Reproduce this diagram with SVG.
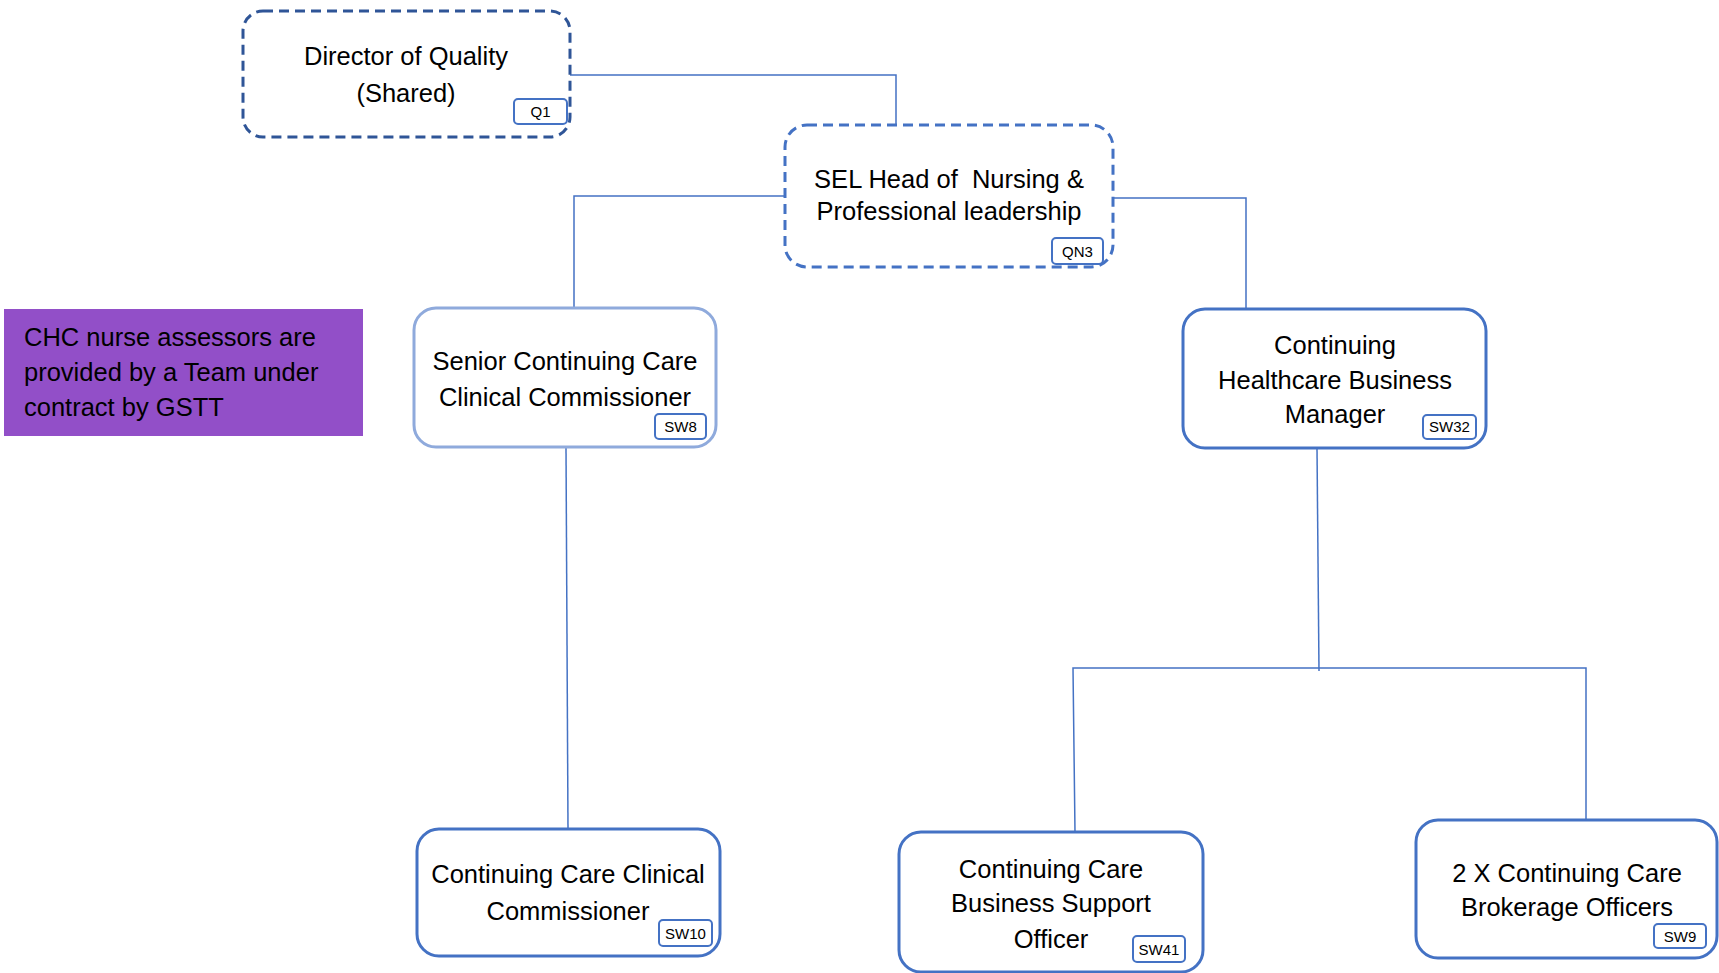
<svg xmlns="http://www.w3.org/2000/svg" width="1719" height="973" viewBox="0 0 1719 973">
<style>
  .node { fill: #ffffff; stroke: #4472C4; stroke-width: 3; }
  .light { stroke: #8FAADC; }
  .dash { fill: #ffffff; stroke: #4472C4; stroke-width: 3; stroke-dasharray: 10 6; }
  .dark { stroke: #2F5597; }
  .tag { fill: #ffffff; stroke: #4472C4; stroke-width: 2; }
  .t { font-family: "Liberation Sans", Arial, sans-serif; font-size: 25.5px; fill: #000000; text-anchor: middle; }
  .tt { font-family: "Liberation Sans", Arial, sans-serif; font-size: 15px; fill: #000000; text-anchor: middle; }
  .note { font-family: "Liberation Sans", Arial, sans-serif; font-size: 25.5px; fill: #000000; }
  .conn { fill: none; stroke: #4472C4; stroke-width: 1.5; }
</style>
<rect width="1719" height="973" fill="#ffffff"/>
<g id="connectors">
  <polyline class="conn" points="570,75 896,75 896,125"/>
  <polyline class="conn" points="785,196 574,196 574,308"/>
  <polyline class="conn" points="1113,198 1246,198 1246,309"/>
  <line class="conn" x1="566" y1="447" x2="568" y2="829"/>
  <line class="conn" x1="1317" y1="448" x2="1319" y2="671"/>
  <polyline class="conn" points="1075,832 1073,668 1586,668 1586,820"/>
</g>
<g id="note">
  <rect x="4" y="309" width="359" height="127" fill="#924FC8"/>
  <text class="note" x="24" y="346">CHC nurse assessors are</text>
  <text class="note" x="24" y="381">provided by a Team under</text>
  <text class="note" x="24" y="416">contract by GSTT</text>
</g>
<g id="q1">
  <rect class="dash dark" x="243" y="11" width="327" height="126" rx="20"/>
  <text class="t" x="406" y="65">Director of Quality</text>
  <text class="t" x="406" y="102">(Shared)</text>
  <rect class="tag" x="514" y="99" width="53" height="25" rx="4"/>
  <text class="tt" x="540.5" y="117">Q1</text>
</g>
<g id="qn3">
  <rect class="dash" x="785" y="125" width="328" height="142" rx="22"/>
  <text class="t" x="949" y="188" xml:space="preserve">SEL Head of  Nursing &amp;</text>
  <text class="t" x="949" y="220">Professional leadership</text>
  <rect class="tag" x="1052" y="238" width="51" height="26" rx="4"/>
  <text class="tt" x="1077.5" y="257">QN3</text>
</g>
<g id="sw8">
  <rect class="node light" x="414" y="308" width="302" height="139" rx="22"/>
  <text class="t" x="565" y="370">Senior Continuing Care</text>
  <text class="t" x="565" y="406">Clinical Commissioner</text>
  <rect class="tag" x="655" y="414" width="51" height="25" rx="4"/>
  <text class="tt" x="680.5" y="432">SW8</text>
</g>
<g id="sw32">
  <rect class="node" x="1183" y="309" width="303" height="139" rx="22"/>
  <text class="t" x="1335" y="354">Continuing</text>
  <text class="t" x="1335" y="389">Healthcare Business</text>
  <text class="t" x="1335" y="423">Manager</text>
  <rect class="tag" x="1423" y="415" width="53" height="24" rx="4"/>
  <text class="tt" x="1449.5" y="432">SW32</text>
</g>
<g id="sw10">
  <rect class="node" x="417" y="829" width="303" height="127" rx="22"/>
  <text class="t" x="568" y="883">Continuing Care Clinical</text>
  <text class="t" x="568" y="920">Commissioner</text>
  <rect class="tag" x="659" y="920" width="53" height="26" rx="4"/>
  <text class="tt" x="685.5" y="939">SW10</text>
</g>
<g id="sw41">
  <rect class="node" x="899" y="832" width="304" height="140" rx="22"/>
  <text class="t" x="1051" y="878">Continuing Care</text>
  <text class="t" x="1051" y="912">Business Support</text>
  <text class="t" x="1051" y="948">Officer</text>
  <rect class="tag" x="1133" y="936" width="52" height="26" rx="4"/>
  <text class="tt" x="1159" y="955">SW41</text>
</g>
<g id="sw9">
  <rect class="node" x="1416" y="820" width="301" height="138" rx="22"/>
  <text class="t" x="1567" y="882">2 X Continuing Care</text>
  <text class="t" x="1567" y="916">Brokerage Officers</text>
  <rect class="tag" x="1654" y="924" width="52" height="24" rx="4"/>
  <text class="tt" x="1680" y="942">SW9</text>
</g>
</svg>
